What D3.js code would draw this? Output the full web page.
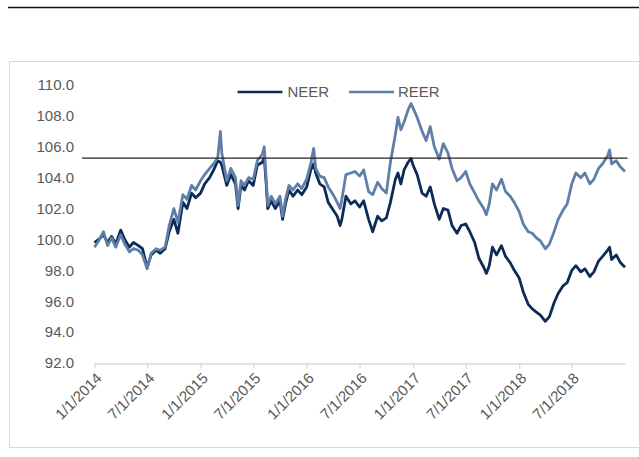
<!DOCTYPE html>
<html>
<head>
<meta charset="utf-8">
<script src="https://cdn.jsdelivr.net/npm/d3@7"></script>
<style>
  html, body { margin: 0; padding: 0; background: #ffffff; }
  svg { display: block; }
  text { font-family: "Liberation Sans", Arial, sans-serif; fill: #595959; }
</style>
</head>
<body>
<svg id="chart" width="639" height="457"></svg>
<script>
// ---- data ----
const dates = [
  "2014-01-01","2014-01-15","2014-02-01","2014-02-15","2014-03-01","2014-03-15","2014-04-01","2014-04-15",
  "2014-05-01","2014-05-15","2014-06-01","2014-06-15","2014-07-01","2014-07-15","2014-08-01","2014-08-15",
  "2014-09-01","2014-09-15","2014-10-01","2014-10-15","2014-11-01","2014-11-15","2014-12-01","2014-12-15",
  "2015-01-01","2015-01-15","2015-02-01","2015-02-15","2015-03-01","2015-03-10","2015-03-15","2015-04-01",
  "2015-04-15","2015-05-01","2015-05-10","2015-05-20","2015-06-01","2015-06-15","2015-07-01","2015-07-15",
  "2015-08-01","2015-08-08","2015-08-15","2015-08-20","2015-09-01","2015-09-15","2015-10-01","2015-10-10",
  "2015-10-20","2015-11-01","2015-11-15","2015-12-01","2015-12-15",
  "2016-01-01","2016-01-15","2016-01-25","2016-02-01","2016-02-15","2016-03-01","2016-03-15","2016-04-01",
  "2016-04-15","2016-04-25","2016-05-01","2016-05-15","2016-06-01","2016-06-15","2016-07-01","2016-07-15",
  "2016-08-01","2016-08-15","2016-09-01","2016-09-15","2016-10-01","2016-10-15","2016-11-01","2016-11-10",
  "2016-11-20","2016-12-01","2016-12-15","2016-12-25",
  "2017-01-01","2017-01-15","2017-02-01","2017-02-15","2017-03-01","2017-03-15","2017-04-01","2017-04-15",
  "2017-05-01","2017-05-15","2017-06-01","2017-06-15","2017-07-01","2017-07-15","2017-08-01","2017-08-15",
  "2017-09-01","2017-09-10","2017-09-20","2017-10-01","2017-10-15","2017-11-01","2017-11-15","2017-12-01",
  "2017-12-15",
  "2018-01-01","2018-01-15","2018-02-01","2018-02-15","2018-03-01","2018-03-15","2018-04-01","2018-04-15",
  "2018-05-01","2018-05-15","2018-06-01","2018-06-15","2018-07-01","2018-07-15","2018-08-01","2018-08-15",
  "2018-09-01","2018-09-15","2018-10-01","2018-10-15","2018-11-01","2018-11-08","2018-11-15","2018-12-01",
  "2018-12-15","2018-12-31"
];
const neer = [
  99.8,100.0,100.3,99.8,100.2,99.7,100.6,100.0,
  99.5,99.8,99.6,99.4,98.2,99.0,99.3,99.1,
  99.4,100.5,101.3,100.4,102.4,102.0,103.0,102.7,
  103.0,103.6,104.0,104.5,105.1,105.0,104.8,103.5,
  104.2,103.6,102.0,103.5,103.2,103.8,103.5,104.8,
  105.0,105.3,103.5,102.0,102.5,102.0,102.5,101.3,
  102.3,103.2,102.8,103.2,102.9,
  103.4,104.5,104.9,104.3,103.6,103.4,102.4,101.9,
  101.5,100.9,101.3,102.8,102.3,102.5,102.1,102.5,
  101.3,100.5,101.5,101.2,101.4,102.4,103.9,104.3,
  103.6,104.5,105.0,105.25,
  104.8,104.2,103.0,102.8,103.4,102.3,101.3,102.0,
  101.9,100.9,100.4,100.9,101.0,100.5,99.8,98.8,
  98.2,97.8,98.3,99.5,99.0,99.6,98.9,98.5,
  98.0,
  97.5,96.6,95.8,95.5,95.3,95.1,94.7,95.0,
  95.9,96.5,97.0,97.2,98.0,98.3,97.9,98.1,
  97.6,97.9,98.6,98.9,99.3,99.5,98.7,99.0,
  98.5,98.2
];
const reer = [
  99.5,99.9,100.5,99.6,100.1,99.5,100.3,99.7,
  99.2,99.4,99.3,99.0,98.1,99.1,99.4,99.3,
  99.5,100.9,102.0,101.1,102.9,102.6,103.5,103.2,
  103.8,104.2,104.6,104.9,105.3,107.0,105.6,103.8,
  104.6,104.0,102.2,103.8,103.5,104.0,103.9,105.1,
  105.5,106.0,103.8,102.2,102.8,102.3,102.8,101.5,
  102.6,103.5,103.2,103.6,103.3,
  103.9,104.9,105.9,104.6,104.1,104.0,103.4,102.9,
  102.4,102.0,102.6,104.2,104.3,104.4,104.1,104.5,
  103.1,102.9,103.7,103.3,103.0,105.0,106.8,107.9,
  107.1,107.6,108.4,108.8,
  108.5,107.9,107.0,106.4,107.3,106.0,105.2,106.2,
  105.6,104.6,103.8,104.0,104.4,103.6,103.0,102.5,
  102.0,101.6,102.3,103.6,103.2,103.9,103.1,102.8,
  102.4,
  101.8,101.0,100.5,100.4,100.1,99.9,99.4,99.7,
  100.5,101.3,101.9,102.3,103.6,104.3,104.0,104.3,
  103.6,103.9,104.6,104.9,105.4,105.8,104.9,105.1,
  104.7,104.4
];
const seriesNames = ["NEER", "REER"];
const seriesColors = ["#0c2b57", "#5f7fa8"];
const yTicks = [92, 94, 96, 98, 100, 102, 104, 106, 108, 110];
const xTickDates = ["2014-01-01","2014-07-01","2015-01-01","2015-07-01","2016-01-01",
                    "2016-07-01","2017-01-01","2017-07-01","2018-01-01","2018-07-01"];
const refLineValue = 105.27;

// ---- drawing ----
const svg = d3.select("#chart");
const parse = d3.timeParse("%Y-%m-%d");
const fmt = d => (d.getMonth() + 1) + "/" + d.getDate() + "/" + d.getFullYear();

// top rule
svg.append("line").attr("x1", 8).attr("x2", 639).attr("y1", 7.5).attr("y2", 7.5)
  .attr("stroke", "#111").attr("stroke-width", 1.3);

// chart border
svg.append("rect").attr("x", 9.5).attr("y", 61.5).attr("width", 640).attr("height", 386)
  .attr("fill", "#fff").attr("stroke", "#d9d9d9").attr("stroke-width", 1);

const x = d3.scaleTime()
  .domain([parse("2014-01-01"), parse("2018-12-31")])
  .range([94.5, 625]);
const y = d3.scaleLinear().domain([92, 110]).range([363, 85]);

// y axis labels (no line)
const yAxis = d3.axisLeft(y).tickValues(yTicks).tickFormat(d3.format(".1f")).tickSize(0).tickPadding(0);
const gy = svg.append("g").attr("transform", "translate(74,0)").call(yAxis);
gy.select(".domain").remove();
gy.selectAll("text").attr("font-size", 15).attr("fill", "#595959")
  .attr("font-family", "Liberation Sans, Arial, sans-serif");

// x axis
const xAxis = d3.axisBottom(x).tickValues(xTickDates.map(parse)).tickFormat(fmt)
  .tickSize(5).tickSizeOuter(0);
const gx = svg.append("g").attr("transform", "translate(0,363.5)").call(xAxis);
gx.select(".domain").attr("stroke", "#d9d9d9").attr("stroke-width", 1.3);
gx.selectAll(".tick line").attr("stroke", "#d9d9d9").attr("stroke-width", 1.3);
gx.selectAll(".tick text")
  .attr("font-size", 15).attr("fill", "#595959")
  .attr("font-family", "Liberation Sans, Arial, sans-serif")
  .attr("text-anchor", "end")
  .attr("dy", "0.35em")
  .attr("transform", "translate(4,12) rotate(-45)")
  .attr("x", 0).attr("y", 0);

// series lines
const line = vals => d3.line()
  .x((d, i) => x(parse(dates[i])))
  .y(d => y(d))(vals);

[neer, reer].forEach((vals, k) => {
  svg.append("path").attr("d", line(vals))
    .attr("fill", "none").attr("stroke", seriesColors[k])
    .attr("stroke-width", 2.8).attr("stroke-linejoin", "round");
});

// reference horizontal line
svg.append("line").attr("x1", 82).attr("x2", 627.5)
  .attr("y1", y(refLineValue)).attr("y2", y(refLineValue))
  .attr("stroke", "#222").attr("stroke-width", 1.2);

// legend
const legendItems = [{ x: 237.5, tx: 287.5 }, { x: 349, tx: 398 }];
seriesNames.forEach((name, k) => {
  const it = legendItems[k];
  svg.append("line").attr("x1", it.x).attr("x2", it.x + 45).attr("y1", 92).attr("y2", 92)
    .attr("stroke", seriesColors[k]).attr("stroke-width", 2.6);
  svg.append("text").attr("x", it.tx).attr("y", 92).attr("dy", "0.36em")
    .attr("font-size", 15).attr("fill", "#595959").text(name);
});
</script>
</body>
</html>
